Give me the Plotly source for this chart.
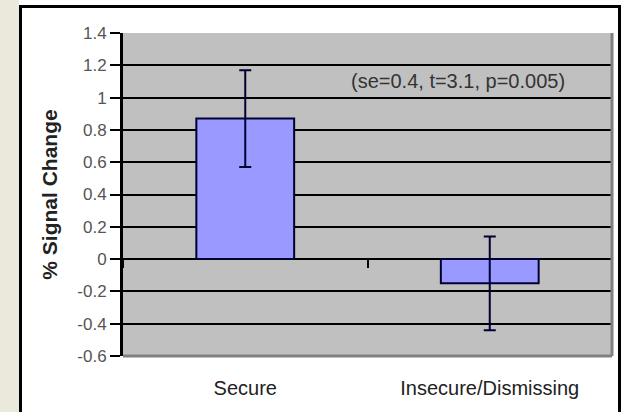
import plotly.graph_objects as go

categories = ["Secure", "Insecure/Dismissing"]
values = [0.87, -0.15]
errors = [0.30, 0.29]
y_tick_vals = [1.4, 1.2, 1.0, 0.8, 0.6, 0.4, 0.2, 0.0, -0.2, -0.4, -0.6]
y_tick_labels = ["1.4", "1.2", "1", "0.8", "0.6", "0.4", "0.2", "0", "-0.2", "-0.4", "-0.6"]
stats_text = "(se=0.4, t=3.1, p=0.005)"

W, H = 621, 412
ML, MR, MT, MB = 123, 9, 33, 56
PW = W - ML - MR
PH = H - MT - MB
Y_MIN, Y_MAX = -0.6, 1.4

def px_x(p):
    return (p - ML) / PW

def px_y(p):
    return (H - MB - p) / PH

fig = go.Figure()
fig.add_trace(go.Bar(
    x=categories, y=values,
    marker=dict(color="#9999ff", line=dict(color="#000033", width=2)),
    error_y=dict(type="data", array=errors, visible=True, color="#000033",
                 thickness=2, width=6),
    width=0.4,
    showlegend=False,
))
fig.add_trace(go.Scatter(x=[None], y=[None], xaxis="x2", showlegend=False, hoverinfo="skip"))

fig.update_layout(
    width=W, height=H,
    margin=dict(l=ML, r=MR, t=MT, b=MB, autoexpand=False),
    paper_bgcolor="white",
    plot_bgcolor="#c0c0c0",
    font=dict(family="Liberation Sans, Arial, sans-serif"),
    bargap=0.6,
    xaxis=dict(
        type="category", range=[-0.5, len(categories) - 0.5], automargin=False,
        showgrid=False, zeroline=False, showline=False, ticks="",
        tickfont=dict(size=20, color="#222"),
        ticklabelstandoff=18,
    ),
    xaxis2=dict(
        overlaying="x", anchor="free", position=(0 - Y_MIN) / (Y_MAX - Y_MIN), automargin=False,
        range=[0, len(categories)], dtick=1, tick0=0,
        ticks="outside", ticklen=8, tickwidth=2, tickcolor="black",
        showticklabels=False, showgrid=False, zeroline=False, showline=False,
    ),
    yaxis=dict(
        range=[Y_MIN, Y_MAX], tickvals=y_tick_vals, ticktext=y_tick_labels, automargin=False,
        showgrid=True, gridcolor="black", gridwidth=2,
        zeroline=True, zerolinecolor="black", zerolinewidth=2,
        showline=True, linecolor="black", linewidth=3,
        ticks="outside", ticklen=10, tickwidth=2, tickcolor="black",
        tickfont=dict(size=17, color="#555"),
        title=dict(text="<b>% Signal Change</b>", font=dict(size=21, color="#222"), standoff=14),
    ),
)

frame = dict(color="black", width=3)
shapes = [
    # beige strip at the far left
    dict(type="rect", xref="paper", yref="paper", x0=px_x(-5), x1=px_x(19), y0=px_y(H + 5), y1=px_y(-5),
         fillcolor="#ebe8dc", line=dict(width=0), layer="below"),
    # outer black frame (top, left, right)
    dict(type="line", xref="paper", yref="paper", x0=px_x(19), x1=px_x(W + 5), y0=px_y(6.5), y1=px_y(6.5), line=frame),
    dict(type="line", xref="paper", yref="paper", x0=px_x(20.5), x1=px_x(20.5), y0=px_y(5), y1=px_y(H + 5), line=frame),
    dict(type="line", xref="paper", yref="paper", x0=px_x(619.5), x1=px_x(619.5), y0=px_y(5), y1=px_y(H + 5), line=frame),
    # gray right and bottom plot borders
    dict(type="line", xref="x domain", yref="y domain", x0=1, x1=1, y0=0, y1=1,
         line=dict(color="#808080", width=3)),
    dict(type="line", xref="x domain", yref="y domain", x0=0, x1=1, y0=0, y1=0,
         line=dict(color="#808080", width=3)),
]
fig.update_layout(shapes=shapes)

fig.add_annotation(text=stats_text, xref="paper", yref="y", x=px_x(458), y=1.1,
                   xanchor="center", yanchor="middle",
                   showarrow=False, font=dict(size=20, color="#333"))

fig.write_html("out.html", config={"displayModeBar": False},
               post_script="document.body.style.margin='0';document.body.style.overflow='hidden';")
